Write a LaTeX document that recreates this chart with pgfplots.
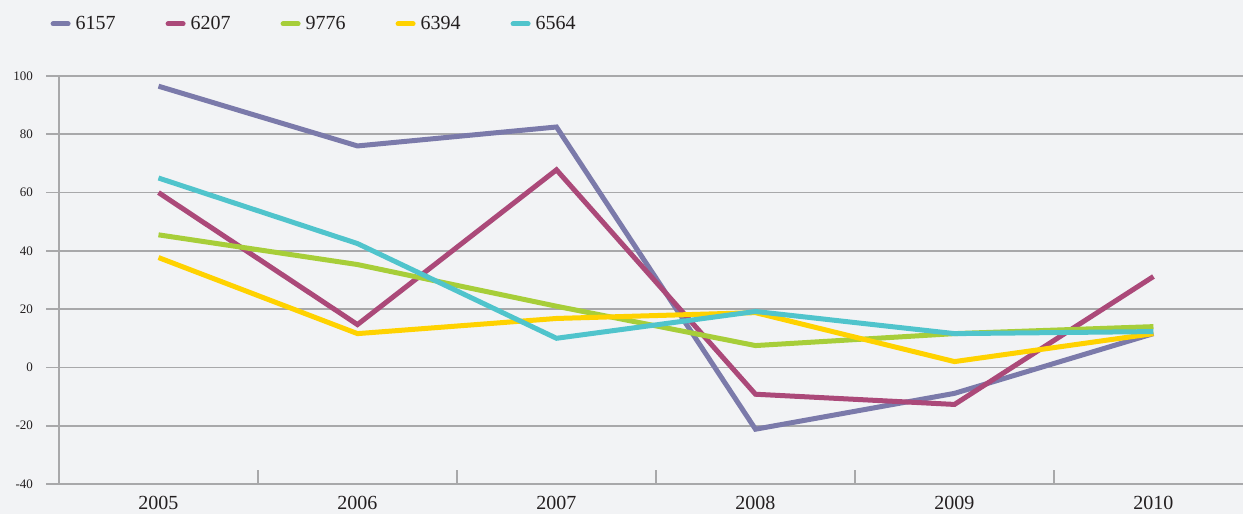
\documentclass[border=0pt]{standalone}
\usepackage{fontspec}
\setmainfont{Liberation Serif}
\usepackage{pgfplots}
\pgfplotsset{compat=1.18}
\definecolor{bg}{RGB}{242,243,245}
\definecolor{gridc}{RGB}{168,168,170}
\definecolor{txt}{RGB}{35,31,32}
\definecolor{cA}{RGB}{123,122,170}
\definecolor{cB}{RGB}{171,73,121}
\definecolor{cC}{RGB}{167,206,57}
\definecolor{cD}{RGB}{255,210,0}
\definecolor{cE}{RGB}{80,196,204}
\begin{document}
\begin{tikzpicture}
\fill[bg] (-29.5pt,-15pt) rectangle (592pt,242pt);
\begin{axis}[
  at={(0,0)}, anchor=south west,
  scale only axis, width=592pt, height=204pt,
  xmin=-0.5, xmax=5.45, ymin=-40, ymax=100,
  axis x line*=bottom, axis y line*=left,
  axis line style={draw=gridc, line width=0.9pt, -},
  ytick={-40,-20,0,20,40,60,80,100},
  ymajorgrids, grid style={gridc, line width=0.8pt},
  tick align=outside, major tick length=6.5pt,
  tick style={gridc, line width=0.8pt},
  xtick={0,1,2,3,4,5},
  xticklabels={2005,2006,2007,2008,2009,2010},
  x tick style={draw=none},
  extra x ticks={0.5,1.5,2.5,3.5,4.5},
  extra x tick labels={},
  extra x tick style={tick align=inside, major tick length=7pt, grid=none,
    every x tick/.style={draw=gridc, line width=0.8pt},
    every major x tick/.style={draw=gridc, line width=0.8pt}},
  /pgf/number format/assume math mode=true,
  yticklabel style={font=\fontsize{6.5}{7}\selectfont, text=txt, xshift=-3pt},
  xticklabel style={font=\fontsize{10}{12}\selectfont, text=txt, yshift=4pt},
  every axis plot/.append style={line width=2.5pt},
  legend columns=-1,
  legend style={at={(axis description cs:0,1)}, anchor=west, xshift=-4.2pt, yshift=26pt,
    draw=none, fill=none, inner sep=0pt, outer sep=0pt,
    font=\fontsize{10}{12}\selectfont, text=txt,
    nodes={inner sep=0pt},
    /tikz/every odd column/.append style={column sep=2.5pt},
    /tikz/every even column/.append style={column sep=25pt}},
  legend image code/.code={\draw[#1, line width=2.5pt, line cap=round] (1.25pt,0pt) -- (8.75pt,0pt);},
]
\addplot[cA] coordinates {(0,96.5) (1,76) (2,82.5) (3,-21.2) (4,-8.9) (5,11.6)};
\addplot[cB] coordinates {(0,60) (1,14.7) (2,67.8) (3,-9.2) (4,-12.7) (5,31.2)};
\addplot[cC] coordinates {(0,45.5) (1,35.3) (2,21) (3,7.5) (4,11.6) (5,14)};
\addplot[cD] coordinates {(0,37.7) (1,11.6) (2,16.8) (3,18.8) (4,2) (5,11.6)};
\addplot[cE] coordinates {(0,65) (1,42.5) (2,10) (3,19.2) (4,11.6) (5,12.3)};
\legend{6157,6207,9776,6394,6564}
\end{axis}
\pgfresetboundingbox
\path (-29.5pt,-15pt) rectangle (592pt,242pt);
\end{tikzpicture}
\end{document}
